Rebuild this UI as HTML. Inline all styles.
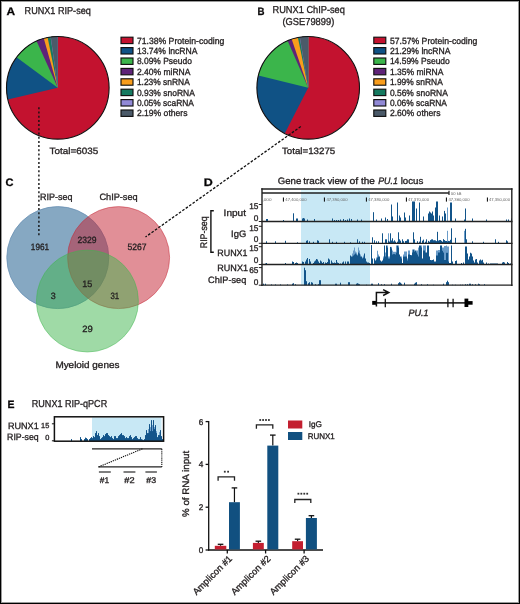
<!DOCTYPE html>
<html><head><meta charset="utf-8"><style>
html,body{margin:0;padding:0;background:#fff;}
#fig{position:relative;width:520px;height:604px;overflow:hidden;background:#fff;}
svg{position:absolute;left:0;top:0;font-family:"Liberation Sans", sans-serif;will-change:transform;}
svg text{stroke:#231f20;stroke-width:0.32px;text-rendering:geometricPrecision;} svg text[fill='#666']{stroke:none} .b{position:absolute;background:#000;} .g{position:absolute;background:#9a9a9a;}
</style></head><body><div id="fig">
<svg width="520" height="604" viewBox="0 0 520 604" fill="#231f20">
<text x="6.6" y="14.8" font-size="10.8" textLength="8.6" lengthAdjust="spacingAndGlyphs" font-weight="bold" fill="#000">A</text>
<text x="24.6" y="13.5" font-size="10.1" textLength="66.2" lengthAdjust="spacingAndGlyphs">RUNX1 RIP-seq</text>
<circle cx="57.8" cy="87.8" r="51.3" fill="#c3122f"/>
<path d="M57.8,87.8 L7.826,99.390 A51.3,51.3 0 0 1 57.800,36.500 Z" fill="#105285"/>
<path d="M57.8,87.8 L16.510,57.357 A51.3,51.3 0 0 1 57.800,36.500 Z" fill="#3bb54b"/>
<path d="M57.8,87.8 L36.545,41.111 A51.3,51.3 0 0 1 57.800,36.500 Z" fill="#5f2378"/>
<path d="M57.8,87.8 L43.799,38.448 A51.3,51.3 0 0 1 57.800,36.500 Z" fill="#f99d1c"/>
<path d="M57.8,87.8 L47.651,37.514 A51.3,51.3 0 0 1 57.800,36.500 Z" fill="#157a60"/>
<path d="M57.8,87.8 L50.604,37.007 A51.3,51.3 0 0 1 57.800,36.500 Z" fill="#9189d6"/>
<path d="M57.8,87.8 L50.764,36.985 A51.3,51.3 0 0 1 57.800,36.500 Z" fill="#4b5a69"/>
<circle cx="57.8" cy="87.8" r="51.3" fill="none" stroke="#111" stroke-width="1.1"/>
<rect x="121.0" y="37.2" width="12" height="6.4" fill="#c3122f" stroke="#111" stroke-width="1.15"/>
<text x="136.9" y="43.6" font-size="9" textLength="87.5" lengthAdjust="spacingAndGlyphs">71.38% Protein-coding</text>
<rect x="121.0" y="47.6" width="12" height="6.4" fill="#105285" stroke="#111" stroke-width="1.15"/>
<text x="136.9" y="54.0" font-size="9" textLength="60.6" lengthAdjust="spacingAndGlyphs">13.74% lncRNA</text>
<rect x="121.0" y="58.0" width="12" height="6.4" fill="#3bb54b" stroke="#111" stroke-width="1.15"/>
<text x="136.9" y="64.4" font-size="9" textLength="55.0" lengthAdjust="spacingAndGlyphs">8.09% Pseudo</text>
<rect x="121.0" y="68.4" width="12" height="6.4" fill="#5f2378" stroke="#111" stroke-width="1.15"/>
<text x="136.9" y="74.8" font-size="9" textLength="53.5" lengthAdjust="spacingAndGlyphs">2.40% miRNA</text>
<rect x="121.0" y="78.80000000000001" width="12" height="6.4" fill="#f99d1c" stroke="#111" stroke-width="1.15"/>
<text x="136.9" y="85.2" font-size="9" textLength="52.9" lengthAdjust="spacingAndGlyphs">1.23% snRNA</text>
<rect x="121.0" y="89.2" width="12" height="6.4" fill="#157a60" stroke="#111" stroke-width="1.15"/>
<text x="136.9" y="95.6" font-size="9" textLength="57.9" lengthAdjust="spacingAndGlyphs">0.93% snoRNA</text>
<rect x="121.0" y="99.60000000000001" width="12" height="6.4" fill="#9189d6" stroke="#111" stroke-width="1.15"/>
<text x="136.9" y="106.0" font-size="9" textLength="57.0" lengthAdjust="spacingAndGlyphs">0.05% scaRNA</text>
<rect x="121.0" y="110.0" width="12" height="6.4" fill="#4b5a69" stroke="#111" stroke-width="1.15"/>
<text x="136.9" y="116.4" font-size="9" textLength="50.6" lengthAdjust="spacingAndGlyphs">2.19% others</text>
<text x="49.6" y="153.6" font-size="9.2" textLength="48.6" lengthAdjust="spacingAndGlyphs">Total=6035</text>
<text x="257.6" y="14.9" font-size="10.6" textLength="7" lengthAdjust="spacingAndGlyphs" font-weight="bold" fill="#000">B</text>
<text x="272.5" y="13.4" font-size="10.1" textLength="72.4" lengthAdjust="spacingAndGlyphs">RUNX1 ChIP-seq</text>
<text x="282.4" y="24.8" font-size="10.1" textLength="51.9" lengthAdjust="spacingAndGlyphs">(GSE79899)</text>
<circle cx="308.2" cy="87.8" r="51.3" fill="#c3122f"/>
<path d="M308.2,87.8 L284.726,133.414 A51.3,51.3 0 0 1 308.200,36.500 Z" fill="#105285"/>
<path d="M308.2,87.8 L258.395,75.504 A51.3,51.3 0 0 1 308.200,36.500 Z" fill="#3bb54b"/>
<path d="M308.2,87.8 L287.651,40.795 A51.3,51.3 0 0 1 308.200,36.500 Z" fill="#5f2378"/>
<path d="M308.2,87.8 L291.707,39.224 A51.3,51.3 0 0 1 308.200,36.500 Z" fill="#f99d1c"/>
<path d="M308.2,87.8 L297.893,37.546 A51.3,51.3 0 0 1 308.200,36.500 Z" fill="#157a60"/>
<path d="M308.2,87.8 L299.667,37.215 A51.3,51.3 0 0 1 308.200,36.500 Z" fill="#9189d6"/>
<path d="M308.2,87.8 L299.858,37.183 A51.3,51.3 0 0 1 308.200,36.500 Z" fill="#4b5a69"/>
<circle cx="308.2" cy="87.8" r="51.3" fill="none" stroke="#111" stroke-width="1.1"/>
<rect x="373.8" y="37.2" width="12" height="6.4" fill="#c3122f" stroke="#111" stroke-width="1.15"/>
<text x="389.9" y="43.6" font-size="9" textLength="87.5" lengthAdjust="spacingAndGlyphs">57.57% Protein-coding</text>
<rect x="373.8" y="47.6" width="12" height="6.4" fill="#105285" stroke="#111" stroke-width="1.15"/>
<text x="389.9" y="54.0" font-size="9" textLength="60.6" lengthAdjust="spacingAndGlyphs">21.29% lncRNA</text>
<rect x="373.8" y="58.0" width="12" height="6.4" fill="#3bb54b" stroke="#111" stroke-width="1.15"/>
<text x="389.9" y="64.4" font-size="9" textLength="59.9" lengthAdjust="spacingAndGlyphs">14.59% Pseudo</text>
<rect x="373.8" y="68.4" width="12" height="6.4" fill="#5f2378" stroke="#111" stroke-width="1.15"/>
<text x="389.9" y="74.8" font-size="9" textLength="53.5" lengthAdjust="spacingAndGlyphs">1.35% miRNA</text>
<rect x="373.8" y="78.80000000000001" width="12" height="6.4" fill="#f99d1c" stroke="#111" stroke-width="1.15"/>
<text x="389.9" y="85.2" font-size="9" textLength="52.9" lengthAdjust="spacingAndGlyphs">1.99% snRNA</text>
<rect x="373.8" y="89.2" width="12" height="6.4" fill="#157a60" stroke="#111" stroke-width="1.15"/>
<text x="389.9" y="95.6" font-size="9" textLength="57.9" lengthAdjust="spacingAndGlyphs">0.56% snoRNA</text>
<rect x="373.8" y="99.60000000000001" width="12" height="6.4" fill="#9189d6" stroke="#111" stroke-width="1.15"/>
<text x="389.9" y="106.0" font-size="9" textLength="57.0" lengthAdjust="spacingAndGlyphs">0.06% scaRNA</text>
<rect x="373.8" y="110.0" width="12" height="6.4" fill="#4b5a69" stroke="#111" stroke-width="1.15"/>
<text x="389.9" y="116.4" font-size="9" textLength="50.6" lengthAdjust="spacingAndGlyphs">2.60% others</text>
<text x="281.9" y="154.3" font-size="9.2" textLength="53.4" lengthAdjust="spacingAndGlyphs">Total=13275</text>
<text x="5.4" y="186.2" font-size="10.8" textLength="8" lengthAdjust="spacingAndGlyphs" font-weight="bold" fill="#000">C</text>
<g>
<circle cx="57.8" cy="257.6" r="51" fill="rgb(134,168,194)" stroke="rgb(105,145,180)" stroke-width="0.8"/>
<circle cx="118.6" cy="257.6" r="51" fill="rgb(196,35,51)" fill-opacity="0.51" stroke="rgb(196,35,51)" stroke-opacity="0.6" stroke-width="0.8"/>
<circle cx="87.4" cy="301" r="51" fill="rgb(63,181,77)" fill-opacity="0.5" stroke="rgb(63,181,77)" stroke-opacity="0.6" stroke-width="0.8"/>
</g>
<text x="40" y="200.4" font-size="9.2" textLength="32.4" lengthAdjust="spacingAndGlyphs">RIP-seq</text>
<text x="99.4" y="200.2" font-size="9.2" textLength="38.3" lengthAdjust="spacingAndGlyphs">ChIP-seq</text>
<text x="40.0" y="250" font-size="9.2" textLength="18.3" lengthAdjust="spacingAndGlyphs" text-anchor="middle">1961</text>
<text x="87.12" y="243" font-size="9.2" textLength="19.05" lengthAdjust="spacingAndGlyphs" text-anchor="middle">2329</text>
<text x="137.12" y="250" font-size="9.2" textLength="19.05" lengthAdjust="spacingAndGlyphs" text-anchor="middle">5267</text>
<text x="87.2" y="286.9" font-size="9.2" textLength="10.0" lengthAdjust="spacingAndGlyphs" text-anchor="middle">15</text>
<text x="53.3" y="298.5" font-size="9.2" textLength="5.0" lengthAdjust="spacingAndGlyphs" text-anchor="middle">3</text>
<text x="114.8" y="298.5" font-size="9.2" textLength="8.8" lengthAdjust="spacingAndGlyphs" text-anchor="middle">31</text>
<text x="87.45" y="331.9" font-size="9.2" textLength="10.5" lengthAdjust="spacingAndGlyphs" text-anchor="middle">29</text>
<text x="55.4" y="368" font-size="9.4" textLength="64" lengthAdjust="spacingAndGlyphs">Myeloid genes</text>
<line x1="38.9" y1="107.3" x2="38.9" y2="236" stroke="#111" stroke-width="1.4" stroke-dasharray="2 2.2"/>
<line x1="300.8" y1="126.5" x2="145.5" y2="237" stroke="#111" stroke-width="1.3" stroke-dasharray="2.6 1.6"/>
<text x="203.7" y="186" font-size="11" textLength="9" lengthAdjust="spacingAndGlyphs" font-weight="bold" fill="#000">D</text>
<text x="277.7" y="184.3" font-size="9.3" textLength="23.6" lengthAdjust="spacingAndGlyphs">Gene</text>
<text x="303.3" y="184.3" font-size="9.3" textLength="21.5" lengthAdjust="spacingAndGlyphs">track</text>
<text x="327.4" y="184.3" font-size="9.3" textLength="19.4" lengthAdjust="spacingAndGlyphs">view</text>
<text x="349.5" y="184.3" font-size="9.3" textLength="8.8" lengthAdjust="spacingAndGlyphs">of</text>
<text x="361.0" y="184.3" font-size="9.3" textLength="13.9" lengthAdjust="spacingAndGlyphs">the</text>
<text x="378.2" y="184.3" font-size="9.3" textLength="19.7" lengthAdjust="spacingAndGlyphs" font-style="italic">PU.1</text>
<text x="400.7" y="184.3" font-size="9.3" textLength="22.6" lengthAdjust="spacingAndGlyphs">locus</text>
<rect x="301" y="190" width="69" height="95.5" fill="#c8e8f5"/>
<rect x="301" y="189.8" width="69" height="2.4" fill="#dcf6fc"/>
<rect x="447" y="207.50" width="1" height="14" fill="#6a9cc9"/>
<rect x="266" y="219.00" width="1" height="2.5" fill="#12548a"/>
<rect x="267" y="219.00" width="1" height="2.5" fill="#12548a"/>
<rect x="283" y="220.00" width="1" height="1.5" fill="#12548a"/>
<rect x="293" y="213.30" width="1" height="8.2" fill="#12548a"/>
<rect x="296" y="218.50" width="1" height="3" fill="#12548a"/>
<rect x="297" y="218.50" width="1" height="3" fill="#12548a"/>
<rect x="302" y="218.50" width="1" height="3" fill="#12548a"/>
<rect x="303" y="218.00" width="1" height="3.5" fill="#12548a"/>
<rect x="304" y="218.50" width="1" height="3" fill="#12548a"/>
<rect x="307" y="219.50" width="1" height="2" fill="#12548a"/>
<rect x="314" y="219.00" width="1" height="2.5" fill="#12548a"/>
<rect x="332" y="218.50" width="1" height="3" fill="#12548a"/>
<rect x="334" y="220.00" width="1" height="1.5" fill="#12548a"/>
<rect x="336" y="220.00" width="1" height="1.5" fill="#12548a"/>
<rect x="338" y="220.00" width="1" height="1.5" fill="#12548a"/>
<rect x="340" y="219.50" width="1" height="2" fill="#12548a"/>
<rect x="343" y="219.00" width="1" height="2.5" fill="#12548a"/>
<rect x="345" y="220.00" width="1" height="1.5" fill="#12548a"/>
<rect x="347" y="219.50" width="1" height="2" fill="#12548a"/>
<rect x="349" y="218.50" width="1" height="3" fill="#12548a"/>
<rect x="351" y="219.00" width="1" height="2.5" fill="#12548a"/>
<rect x="357" y="219.50" width="1" height="2" fill="#12548a"/>
<rect x="361" y="219.50" width="1" height="2" fill="#12548a"/>
<rect x="373" y="212.20" width="1" height="9.3" fill="#12548a"/>
<rect x="376" y="219.50" width="1" height="2" fill="#12548a"/>
<rect x="381" y="218.50" width="1" height="3" fill="#12548a"/>
<rect x="385" y="217.50" width="1" height="4" fill="#12548a"/>
<rect x="387" y="219.00" width="1" height="2.5" fill="#12548a"/>
<rect x="391" y="204.50" width="1" height="17" fill="#12548a"/>
<rect x="392" y="216.50" width="1" height="5" fill="#12548a"/>
<rect x="397" y="202.50" width="1" height="19" fill="#12548a"/>
<rect x="399" y="215.50" width="1" height="6" fill="#12548a"/>
<rect x="400" y="217.50" width="1" height="4" fill="#12548a"/>
<rect x="404" y="212.50" width="1" height="9" fill="#12548a"/>
<rect x="405" y="217.50" width="1" height="4" fill="#12548a"/>
<rect x="409" y="215.50" width="1" height="6" fill="#12548a"/>
<rect x="412" y="201.50" width="1" height="20" fill="#12548a"/>
<rect x="413" y="201.50" width="1" height="20" fill="#12548a"/>
<rect x="414" y="201.50" width="1" height="20" fill="#12548a"/>
<rect x="416" y="208.50" width="1" height="13" fill="#12548a"/>
<rect x="419" y="202.50" width="1" height="19" fill="#12548a"/>
<rect x="423" y="216.50" width="1" height="5" fill="#12548a"/>
<rect x="428" y="213.50" width="1" height="8" fill="#12548a"/>
<rect x="429" y="211.50" width="1" height="10" fill="#12548a"/>
<rect x="430" y="212.50" width="1" height="9" fill="#12548a"/>
<rect x="431" y="213.50" width="1" height="8" fill="#12548a"/>
<rect x="432" y="211.50" width="1" height="10" fill="#12548a"/>
<rect x="433" y="215.50" width="1" height="6" fill="#12548a"/>
<rect x="435" y="207.50" width="1" height="14" fill="#12548a"/>
<rect x="436" y="201.50" width="1" height="20" fill="#12548a"/>
<rect x="437" y="201.50" width="1" height="20" fill="#12548a"/>
<rect x="439" y="215.50" width="1" height="6" fill="#12548a"/>
<rect x="442" y="216.50" width="1" height="5" fill="#12548a"/>
<rect x="444" y="210.90" width="1" height="10.6" fill="#12548a"/>
<rect x="445" y="213.50" width="1" height="8" fill="#12548a"/>
<rect x="450" y="202.50" width="1" height="19" fill="#12548a"/>
<rect x="451" y="202.50" width="1" height="19" fill="#12548a"/>
<rect x="455" y="218.50" width="1" height="3" fill="#12548a"/>
<rect x="464" y="219.50" width="1" height="2" fill="#12548a"/>
<rect x="465" y="208.50" width="1" height="13" fill="#12548a"/>
<rect x="472" y="218.50" width="1" height="3" fill="#12548a"/>
<rect x="486" y="219.50" width="1" height="2" fill="#12548a"/>
<rect x="506" y="219.50" width="1" height="2" fill="#12548a"/>
<rect x="508" y="219.50" width="1" height="2" fill="#12548a"/>
<rect x="511" y="218.50" width="1" height="3" fill="#12548a"/>
<rect x="388" y="233.30" width="1" height="10" fill="#6a9cc9"/>
<rect x="447" y="230.80" width="1" height="12.5" fill="#6a9cc9"/>
<rect x="464" y="230.80" width="1" height="12.5" fill="#6a9cc9"/>
<rect x="266" y="241.30" width="1" height="2" fill="#12548a"/>
<rect x="275" y="241.30" width="1" height="2" fill="#12548a"/>
<rect x="285" y="240.80" width="1" height="2.5" fill="#12548a"/>
<rect x="297" y="242.30" width="1" height="1" fill="#12548a"/>
<rect x="306" y="240.80" width="1" height="2.5" fill="#12548a"/>
<rect x="307" y="240.30" width="1" height="3" fill="#12548a"/>
<rect x="309" y="241.30" width="1" height="2" fill="#12548a"/>
<rect x="313" y="241.80" width="1" height="1.5" fill="#12548a"/>
<rect x="317" y="240.30" width="1" height="3" fill="#12548a"/>
<rect x="318" y="240.80" width="1" height="2.5" fill="#12548a"/>
<rect x="329" y="239.30" width="1" height="4" fill="#12548a"/>
<rect x="332" y="241.80" width="1" height="1.5" fill="#12548a"/>
<rect x="336" y="241.80" width="1" height="1.5" fill="#12548a"/>
<rect x="344" y="241.80" width="1" height="1.5" fill="#12548a"/>
<rect x="350" y="242.30" width="1" height="1" fill="#12548a"/>
<rect x="357" y="239.30" width="1" height="4" fill="#12548a"/>
<rect x="359" y="241.30" width="1" height="2" fill="#12548a"/>
<rect x="362" y="241.80" width="1" height="1.5" fill="#12548a"/>
<rect x="364" y="241.80" width="1" height="1.5" fill="#12548a"/>
<rect x="372" y="237.30" width="1" height="6" fill="#12548a"/>
<rect x="374" y="240.30" width="1" height="3" fill="#12548a"/>
<rect x="376" y="241.30" width="1" height="2" fill="#12548a"/>
<rect x="378" y="241.30" width="1" height="2" fill="#12548a"/>
<rect x="382" y="233.30" width="1" height="10" fill="#12548a"/>
<rect x="385" y="239.30" width="1" height="4" fill="#12548a"/>
<rect x="386" y="239.30" width="1" height="4" fill="#12548a"/>
<rect x="388" y="240.80" width="1" height="2.5" fill="#12548a"/>
<rect x="389" y="241.60" width="1" height="1.7" fill="#12548a"/>
<rect x="390" y="233.30" width="1" height="10" fill="#12548a"/>
<rect x="391" y="240.50" width="1" height="2.8" fill="#12548a"/>
<rect x="392" y="238.30" width="1" height="5" fill="#12548a"/>
<rect x="393" y="241.40" width="1" height="1.9" fill="#12548a"/>
<rect x="394" y="240.30" width="1" height="3.0" fill="#12548a"/>
<rect x="395" y="241.60" width="1" height="1.7" fill="#12548a"/>
<rect x="397" y="241.70" width="1" height="1.6" fill="#12548a"/>
<rect x="398" y="232.30" width="1" height="11" fill="#12548a"/>
<rect x="399" y="239.30" width="1" height="4.0" fill="#12548a"/>
<rect x="400" y="240.70" width="1" height="2.6" fill="#12548a"/>
<rect x="402" y="239.30" width="1" height="4.0" fill="#12548a"/>
<rect x="403" y="241.20" width="1" height="2.1" fill="#12548a"/>
<rect x="405" y="241.00" width="1" height="2.3" fill="#12548a"/>
<rect x="406" y="240.80" width="1" height="2.5" fill="#12548a"/>
<rect x="407" y="239.30" width="1" height="4.0" fill="#12548a"/>
<rect x="408" y="239.40" width="1" height="3.9" fill="#12548a"/>
<rect x="413" y="232.30" width="1" height="11" fill="#12548a"/>
<rect x="414" y="239.40" width="1" height="3.9" fill="#12548a"/>
<rect x="417" y="241.20" width="1" height="2.1" fill="#12548a"/>
<rect x="419" y="241.60" width="1" height="1.7" fill="#12548a"/>
<rect x="420" y="236.80" width="1" height="6.5" fill="#12548a"/>
<rect x="422" y="240.70" width="1" height="2.6" fill="#12548a"/>
<rect x="423" y="239.60" width="1" height="3.7" fill="#12548a"/>
<rect x="425" y="241.70" width="1" height="1.6" fill="#12548a"/>
<rect x="426" y="239.30" width="1" height="4.0" fill="#12548a"/>
<rect x="428" y="240.90" width="1" height="2.4" fill="#12548a"/>
<rect x="429" y="241.70" width="1" height="1.6" fill="#12548a"/>
<rect x="430" y="240.10" width="1" height="3.2" fill="#12548a"/>
<rect x="431" y="239.40" width="1" height="3.9" fill="#12548a"/>
<rect x="432" y="239.30" width="1" height="4.0" fill="#12548a"/>
<rect x="433" y="240.30" width="1" height="3.0" fill="#12548a"/>
<rect x="434" y="240.20" width="1" height="3.1" fill="#12548a"/>
<rect x="435" y="240.40" width="1" height="2.9" fill="#12548a"/>
<rect x="436" y="241.10" width="1" height="2.2" fill="#12548a"/>
<rect x="437" y="231.80" width="1" height="11.5" fill="#12548a"/>
<rect x="438" y="240.60" width="1" height="2.7" fill="#12548a"/>
<rect x="439" y="240.10" width="1" height="3.2" fill="#12548a"/>
<rect x="440" y="240.00" width="1" height="3.3" fill="#12548a"/>
<rect x="441" y="240.80" width="1" height="2.5" fill="#12548a"/>
<rect x="442" y="241.70" width="1" height="1.6" fill="#12548a"/>
<rect x="443" y="239.10" width="1" height="4.2" fill="#12548a"/>
<rect x="444" y="240.10" width="1" height="3.2" fill="#12548a"/>
<rect x="445" y="240.90" width="1" height="2.4" fill="#12548a"/>
<rect x="446" y="241.00" width="1" height="2.3" fill="#12548a"/>
<rect x="447" y="241.70" width="1" height="1.6" fill="#12548a"/>
<rect x="448" y="240.90" width="1" height="2.4" fill="#12548a"/>
<rect x="449" y="241.10" width="1" height="2.2" fill="#12548a"/>
<rect x="450" y="239.80" width="1" height="3.5" fill="#12548a"/>
<rect x="451" y="228.30" width="1" height="15" fill="#12548a"/>
<rect x="455" y="237.80" width="1" height="5.5" fill="#12548a"/>
<rect x="465" y="228.80" width="1" height="14.5" fill="#12548a"/>
<rect x="466" y="239.30" width="1" height="4" fill="#12548a"/>
<rect x="472" y="241.30" width="1" height="2" fill="#12548a"/>
<rect x="483" y="241.80" width="1" height="1.5" fill="#12548a"/>
<rect x="495" y="239.30" width="1" height="4" fill="#12548a"/>
<rect x="498" y="241.80" width="1" height="1.5" fill="#12548a"/>
<rect x="506" y="240.30" width="1" height="3" fill="#12548a"/>
<rect x="507" y="241.30" width="1" height="2" fill="#12548a"/>
<rect x="352" y="253.50" width="1" height="11" fill="#6a9cc9"/>
<rect x="353" y="250.50" width="1" height="14" fill="#6a9cc9"/>
<rect x="354" y="247.50" width="1" height="17" fill="#6a9cc9"/>
<rect x="355" y="251.50" width="1" height="13" fill="#6a9cc9"/>
<rect x="356" y="252.50" width="1" height="12" fill="#6a9cc9"/>
<rect x="357" y="254.50" width="1" height="10" fill="#6a9cc9"/>
<rect x="358" y="247.50" width="1" height="17" fill="#6a9cc9"/>
<rect x="359" y="250.50" width="1" height="14" fill="#6a9cc9"/>
<rect x="360" y="254.50" width="1" height="10" fill="#6a9cc9"/>
<rect x="362" y="257.50" width="1" height="7" fill="#6a9cc9"/>
<rect x="363" y="255.50" width="1" height="9" fill="#6a9cc9"/>
<rect x="376" y="257.50" width="1" height="7" fill="#6a9cc9"/>
<rect x="377" y="250.75" width="1" height="13.75" fill="#6a9cc9"/>
<rect x="378" y="254.50" width="1" height="10" fill="#6a9cc9"/>
<rect x="383" y="256.50" width="1" height="8" fill="#6a9cc9"/>
<rect x="385" y="252.50" width="1" height="12" fill="#6a9cc9"/>
<rect x="387" y="245.50" width="1" height="19" fill="#6a9cc9"/>
<rect x="388" y="256.50" width="1" height="8" fill="#6a9cc9"/>
<rect x="389" y="256.50" width="1" height="8" fill="#6a9cc9"/>
<rect x="391" y="246.90" width="1" height="17.6" fill="#6a9cc9"/>
<rect x="392" y="250.50" width="1" height="14" fill="#6a9cc9"/>
<rect x="393" y="251.80" width="1" height="12.7" fill="#6a9cc9"/>
<rect x="394" y="251.80" width="1" height="12.7" fill="#6a9cc9"/>
<rect x="395" y="251.80" width="1" height="12.7" fill="#6a9cc9"/>
<rect x="396" y="245.50" width="1" height="19" fill="#6a9cc9"/>
<rect x="398" y="245.50" width="1" height="19" fill="#6a9cc9"/>
<rect x="401" y="256.50" width="1" height="8" fill="#6a9cc9"/>
<rect x="403" y="254.50" width="1" height="10" fill="#6a9cc9"/>
<rect x="404" y="251.50" width="1" height="13" fill="#6a9cc9"/>
<rect x="405" y="251.50" width="1" height="13" fill="#6a9cc9"/>
<rect x="406" y="251.50" width="1" height="13" fill="#6a9cc9"/>
<rect x="407" y="258.50" width="1" height="6" fill="#6a9cc9"/>
<rect x="408" y="250.50" width="1" height="14" fill="#6a9cc9"/>
<rect x="409" y="250.50" width="1" height="14" fill="#6a9cc9"/>
<rect x="411" y="255.00" width="1" height="9.5" fill="#6a9cc9"/>
<rect x="412" y="249.50" width="1" height="15" fill="#6a9cc9"/>
<rect x="414" y="249.50" width="1" height="15" fill="#6a9cc9"/>
<rect x="416" y="250.50" width="1" height="14" fill="#6a9cc9"/>
<rect x="417" y="250.50" width="1" height="14" fill="#6a9cc9"/>
<rect x="418" y="247.50" width="1" height="17" fill="#6a9cc9"/>
<rect x="421" y="245.50" width="1" height="19" fill="#6a9cc9"/>
<rect x="423" y="245.50" width="1" height="19" fill="#6a9cc9"/>
<rect x="424" y="245.50" width="1" height="19" fill="#6a9cc9"/>
<rect x="425" y="245.50" width="1" height="19" fill="#6a9cc9"/>
<rect x="431" y="260.00" width="1" height="4.5" fill="#6a9cc9"/>
<rect x="436" y="250.50" width="1" height="14" fill="#6a9cc9"/>
<rect x="437" y="250.50" width="1" height="14" fill="#6a9cc9"/>
<rect x="438" y="250.00" width="1" height="14.5" fill="#6a9cc9"/>
<rect x="439" y="250.00" width="1" height="14.5" fill="#6a9cc9"/>
<rect x="442" y="247.50" width="1" height="17" fill="#6a9cc9"/>
<rect x="443" y="247.50" width="1" height="17" fill="#6a9cc9"/>
<rect x="444" y="246.00" width="1" height="18.5" fill="#6a9cc9"/>
<rect x="445" y="246.00" width="1" height="18.5" fill="#6a9cc9"/>
<rect x="446" y="245.50" width="1" height="19" fill="#6a9cc9"/>
<rect x="447" y="246.50" width="1" height="18" fill="#6a9cc9"/>
<rect x="448" y="246.50" width="1" height="18" fill="#6a9cc9"/>
<rect x="350" y="255.50" width="1" height="9" fill="#12548a"/>
<rect x="351" y="256.50" width="1" height="8" fill="#12548a"/>
<rect x="352" y="256.50" width="1" height="8" fill="#12548a"/>
<rect x="353" y="255.50" width="1" height="9" fill="#12548a"/>
<rect x="354" y="254.50" width="1" height="10" fill="#12548a"/>
<rect x="355" y="253.50" width="1" height="11" fill="#12548a"/>
<rect x="356" y="254.50" width="1" height="10" fill="#12548a"/>
<rect x="357" y="255.50" width="1" height="9" fill="#12548a"/>
<rect x="358" y="252.50" width="1" height="12" fill="#12548a"/>
<rect x="359" y="253.50" width="1" height="11" fill="#12548a"/>
<rect x="360" y="256.50" width="1" height="8" fill="#12548a"/>
<rect x="361" y="256.50" width="1" height="8" fill="#12548a"/>
<rect x="362" y="258.50" width="1" height="6" fill="#12548a"/>
<rect x="363" y="257.50" width="1" height="7" fill="#12548a"/>
<rect x="364" y="253.50" width="1" height="11" fill="#12548a"/>
<rect x="365" y="258.50" width="1" height="6" fill="#12548a"/>
<rect x="366" y="261.50" width="1" height="3" fill="#12548a"/>
<rect x="367" y="262.50" width="1" height="2" fill="#12548a"/>
<rect x="368" y="262.50" width="1" height="2" fill="#12548a"/>
<rect x="369" y="263.00" width="1" height="1.5" fill="#12548a"/>
<rect x="371" y="245.10" width="1" height="19.4" fill="#12548a"/>
<rect x="372" y="258.50" width="1" height="6" fill="#12548a"/>
<rect x="374" y="258.50" width="1" height="6" fill="#12548a"/>
<rect x="375" y="260.50" width="1" height="4" fill="#12548a"/>
<rect x="376" y="259.50" width="1" height="5" fill="#12548a"/>
<rect x="377" y="257.50" width="1" height="7" fill="#12548a"/>
<rect x="378" y="256.50" width="1" height="8" fill="#12548a"/>
<rect x="379" y="256.50" width="1" height="8" fill="#12548a"/>
<rect x="380" y="260.50" width="1" height="4" fill="#12548a"/>
<rect x="381" y="261.50" width="1" height="3" fill="#12548a"/>
<rect x="382" y="260.50" width="1" height="4" fill="#12548a"/>
<rect x="383" y="258.50" width="1" height="6" fill="#12548a"/>
<rect x="384" y="245.50" width="1" height="19" fill="#12548a"/>
<rect x="385" y="256.50" width="1" height="8" fill="#12548a"/>
<rect x="386" y="245.50" width="1" height="19" fill="#12548a"/>
<rect x="387" y="247.50" width="1" height="17" fill="#12548a"/>
<rect x="388" y="258.50" width="1" height="6" fill="#12548a"/>
<rect x="389" y="258.50" width="1" height="6" fill="#12548a"/>
<rect x="390" y="246.90" width="1" height="17.6" fill="#12548a"/>
<rect x="391" y="248.50" width="1" height="16" fill="#12548a"/>
<rect x="392" y="254.50" width="1" height="10" fill="#12548a"/>
<rect x="393" y="254.10" width="1" height="10.4" fill="#12548a"/>
<rect x="394" y="254.10" width="1" height="10.4" fill="#12548a"/>
<rect x="395" y="254.50" width="1" height="10" fill="#12548a"/>
<rect x="396" y="252.50" width="1" height="12" fill="#12548a"/>
<rect x="397" y="245.50" width="1" height="19" fill="#12548a"/>
<rect x="398" y="247.50" width="1" height="17" fill="#12548a"/>
<rect x="399" y="254.50" width="1" height="10" fill="#12548a"/>
<rect x="400" y="256.50" width="1" height="8" fill="#12548a"/>
<rect x="401" y="258.50" width="1" height="6" fill="#12548a"/>
<rect x="402" y="263.00" width="1" height="1.5" fill="#12548a"/>
<rect x="403" y="256.60" width="1" height="7.9" fill="#12548a"/>
<rect x="404" y="256.60" width="1" height="7.9" fill="#12548a"/>
<rect x="405" y="256.50" width="1" height="8" fill="#12548a"/>
<rect x="406" y="256.50" width="1" height="8" fill="#12548a"/>
<rect x="407" y="260.50" width="1" height="4" fill="#12548a"/>
<rect x="408" y="254.50" width="1" height="10" fill="#12548a"/>
<rect x="409" y="254.50" width="1" height="10" fill="#12548a"/>
<rect x="410" y="255.00" width="1" height="9.5" fill="#12548a"/>
<rect x="411" y="255.50" width="1" height="9" fill="#12548a"/>
<rect x="412" y="252.50" width="1" height="12" fill="#12548a"/>
<rect x="413" y="249.50" width="1" height="15" fill="#12548a"/>
<rect x="414" y="251.50" width="1" height="13" fill="#12548a"/>
<rect x="415" y="250.50" width="1" height="14" fill="#12548a"/>
<rect x="416" y="252.50" width="1" height="12" fill="#12548a"/>
<rect x="417" y="254.50" width="1" height="10" fill="#12548a"/>
<rect x="418" y="256.50" width="1" height="8" fill="#12548a"/>
<rect x="419" y="245.50" width="1" height="19" fill="#12548a"/>
<rect x="420" y="245.50" width="1" height="19" fill="#12548a"/>
<rect x="421" y="247.50" width="1" height="17" fill="#12548a"/>
<rect x="422" y="258.50" width="1" height="6" fill="#12548a"/>
<rect x="423" y="250.50" width="1" height="14" fill="#12548a"/>
<rect x="424" y="250.50" width="1" height="14" fill="#12548a"/>
<rect x="425" y="252.50" width="1" height="12" fill="#12548a"/>
<rect x="426" y="252.50" width="1" height="12" fill="#12548a"/>
<rect x="427" y="245.50" width="1" height="19" fill="#12548a"/>
<rect x="428" y="245.50" width="1" height="19" fill="#12548a"/>
<rect x="429" y="256.50" width="1" height="8" fill="#12548a"/>
<rect x="430" y="260.00" width="1" height="4.5" fill="#12548a"/>
<rect x="431" y="260.50" width="1" height="4" fill="#12548a"/>
<rect x="432" y="260.00" width="1" height="4.5" fill="#12548a"/>
<rect x="433" y="259.50" width="1" height="5" fill="#12548a"/>
<rect x="434" y="261.50" width="1" height="3" fill="#12548a"/>
<rect x="435" y="261.50" width="1" height="3" fill="#12548a"/>
<rect x="436" y="255.50" width="1" height="9" fill="#12548a"/>
<rect x="437" y="255.50" width="1" height="9" fill="#12548a"/>
<rect x="438" y="252.50" width="1" height="12" fill="#12548a"/>
<rect x="439" y="252.50" width="1" height="12" fill="#12548a"/>
<rect x="440" y="245.50" width="1" height="19" fill="#12548a"/>
<rect x="441" y="245.50" width="1" height="19" fill="#12548a"/>
<rect x="442" y="250.80" width="1" height="13.7" fill="#12548a"/>
<rect x="443" y="252.50" width="1" height="12" fill="#12548a"/>
<rect x="444" y="260.00" width="1" height="4.5" fill="#12548a"/>
<rect x="445" y="260.00" width="1" height="4.5" fill="#12548a"/>
<rect x="446" y="252.80" width="1" height="11.7" fill="#12548a"/>
<rect x="447" y="252.80" width="1" height="11.7" fill="#12548a"/>
<rect x="448" y="261.50" width="1" height="3" fill="#12548a"/>
<rect x="449" y="263.00" width="1" height="1.5" fill="#12548a"/>
<rect x="450" y="263.00" width="1" height="1.5" fill="#12548a"/>
<rect x="451" y="245.50" width="1" height="19" fill="#12548a"/>
<rect x="265" y="263.50" width="1" height="1" fill="#12548a"/>
<rect x="266" y="263.00" width="1" height="1.5" fill="#12548a"/>
<rect x="285" y="263.00" width="1" height="1.5" fill="#12548a"/>
<rect x="292" y="261.50" width="1" height="3" fill="#12548a"/>
<rect x="293" y="262.00" width="1" height="2.5" fill="#12548a"/>
<rect x="295" y="263.00" width="1" height="1.5" fill="#12548a"/>
<rect x="296" y="262.50" width="1" height="2" fill="#12548a"/>
<rect x="297" y="263.00" width="1" height="1.5" fill="#12548a"/>
<rect x="302" y="261.50" width="1" height="3" fill="#12548a"/>
<rect x="303" y="262.00" width="1" height="2.5" fill="#12548a"/>
<rect x="305" y="261.50" width="1" height="3" fill="#12548a"/>
<rect x="306" y="259.50" width="1" height="5" fill="#12548a"/>
<rect x="307" y="258.00" width="1" height="6.5" fill="#12548a"/>
<rect x="309" y="259.00" width="1" height="5.5" fill="#12548a"/>
<rect x="310" y="261.50" width="1" height="3" fill="#12548a"/>
<rect x="313" y="263.00" width="1" height="1.5" fill="#12548a"/>
<rect x="314" y="261.50" width="1" height="3" fill="#12548a"/>
<rect x="315" y="260.50" width="1" height="4" fill="#12548a"/>
<rect x="316" y="259.00" width="1" height="5.5" fill="#12548a"/>
<rect x="317" y="259.50" width="1" height="5" fill="#12548a"/>
<rect x="318" y="261.50" width="1" height="3" fill="#12548a"/>
<rect x="319" y="263.00" width="1" height="1.5" fill="#12548a"/>
<rect x="320" y="260.50" width="1" height="4" fill="#12548a"/>
<rect x="321" y="261.50" width="1" height="3" fill="#12548a"/>
<rect x="322" y="263.00" width="1" height="1.5" fill="#12548a"/>
<rect x="323" y="262.00" width="1" height="2.5" fill="#12548a"/>
<rect x="325" y="262.50" width="1" height="2" fill="#12548a"/>
<rect x="326" y="263.00" width="1" height="1.5" fill="#12548a"/>
<rect x="327" y="262.00" width="1" height="2.5" fill="#12548a"/>
<rect x="328" y="258.50" width="1" height="6" fill="#12548a"/>
<rect x="329" y="259.50" width="1" height="5" fill="#12548a"/>
<rect x="331" y="260.50" width="1" height="4" fill="#12548a"/>
<rect x="332" y="262.50" width="1" height="2" fill="#12548a"/>
<rect x="333" y="263.00" width="1" height="1.5" fill="#12548a"/>
<rect x="334" y="262.50" width="1" height="2" fill="#12548a"/>
<rect x="335" y="263.00" width="1" height="1.5" fill="#12548a"/>
<rect x="336" y="260.00" width="1" height="4.5" fill="#12548a"/>
<rect x="337" y="262.50" width="1" height="2" fill="#12548a"/>
<rect x="338" y="263.00" width="1" height="1.5" fill="#12548a"/>
<rect x="340" y="263.50" width="1" height="1" fill="#12548a"/>
<rect x="342" y="262.50" width="1" height="2" fill="#12548a"/>
<rect x="343" y="261.50" width="1" height="3" fill="#12548a"/>
<rect x="345" y="261.50" width="1" height="3" fill="#12548a"/>
<rect x="347" y="261.50" width="1" height="3" fill="#12548a"/>
<rect x="348" y="261.50" width="1" height="3" fill="#12548a"/>
<rect x="452" y="261.50" width="1" height="3" fill="#12548a"/>
<rect x="455" y="261.00" width="1" height="3.5" fill="#12548a"/>
<rect x="456" y="260.50" width="1" height="4" fill="#12548a"/>
<rect x="461" y="263.00" width="1" height="1.5" fill="#12548a"/>
<rect x="463" y="262.50" width="1" height="2" fill="#12548a"/>
<rect x="465" y="246.50" width="1" height="18" fill="#12548a"/>
<rect x="466" y="246.50" width="1" height="18" fill="#12548a"/>
<rect x="467" y="253.50" width="1" height="11" fill="#12548a"/>
<rect x="468" y="259.50" width="1" height="5" fill="#12548a"/>
<rect x="469" y="256.50" width="1" height="8" fill="#12548a"/>
<rect x="470" y="252.75" width="1" height="11.75" fill="#12548a"/>
<rect x="471" y="253.50" width="1" height="11" fill="#12548a"/>
<rect x="472" y="256.50" width="1" height="8" fill="#12548a"/>
<rect x="473" y="260.50" width="1" height="4" fill="#12548a"/>
<rect x="474" y="262.50" width="1" height="2" fill="#12548a"/>
<rect x="475" y="259.50" width="1" height="5" fill="#12548a"/>
<rect x="476" y="259.00" width="1" height="5.5" fill="#12548a"/>
<rect x="477" y="262.50" width="1" height="2" fill="#12548a"/>
<rect x="479" y="260.50" width="1" height="4" fill="#12548a"/>
<rect x="480" y="259.50" width="1" height="5" fill="#12548a"/>
<rect x="481" y="260.50" width="1" height="4" fill="#12548a"/>
<rect x="482" y="259.75" width="1" height="4.75" fill="#12548a"/>
<rect x="483" y="262.50" width="1" height="2" fill="#12548a"/>
<rect x="486" y="262.50" width="1" height="2" fill="#12548a"/>
<rect x="488" y="263.50" width="1" height="1" fill="#12548a"/>
<rect x="490" y="263.50" width="1" height="1" fill="#12548a"/>
<rect x="491" y="263.50" width="1" height="1" fill="#12548a"/>
<rect x="492" y="263.50" width="1" height="1" fill="#12548a"/>
<rect x="493" y="263.50" width="1" height="1" fill="#12548a"/>
<rect x="494" y="263.50" width="1" height="1" fill="#12548a"/>
<rect x="495" y="263.50" width="1" height="1" fill="#12548a"/>
<rect x="496" y="263.50" width="1" height="1" fill="#12548a"/>
<rect x="497" y="263.50" width="1" height="1" fill="#12548a"/>
<rect x="502" y="262.50" width="1" height="2" fill="#12548a"/>
<rect x="503" y="262.00" width="1" height="2.5" fill="#12548a"/>
<rect x="504" y="262.50" width="1" height="2" fill="#12548a"/>
<rect x="507" y="262.00" width="1" height="2.5" fill="#12548a"/>
<rect x="508" y="263.00" width="1" height="1.5" fill="#12548a"/>
<rect x="510" y="263.50" width="1" height="1" fill="#12548a"/>
<rect x="263" y="283.70" width="1" height="1.5" fill="#12548a"/>
<rect x="265" y="283.70" width="1" height="1.5" fill="#12548a"/>
<rect x="271" y="284.40" width="1" height="0.8" fill="#12548a"/>
<rect x="275" y="284.40" width="1" height="0.8" fill="#12548a"/>
<rect x="280" y="284.40" width="1" height="0.8" fill="#12548a"/>
<rect x="287" y="284.40" width="1" height="0.8" fill="#12548a"/>
<rect x="292" y="283.70" width="1" height="1.5" fill="#12548a"/>
<rect x="293" y="283.20" width="1" height="2" fill="#12548a"/>
<rect x="295" y="284.20" width="1" height="1" fill="#12548a"/>
<rect x="304" y="267.70" width="1" height="17.5" fill="#12548a"/>
<rect x="305" y="270.20" width="1" height="15" fill="#12548a"/>
<rect x="306" y="281.20" width="1" height="4" fill="#12548a"/>
<rect x="308" y="283.20" width="1" height="2" fill="#12548a"/>
<rect x="309" y="282.20" width="1" height="3" fill="#12548a"/>
<rect x="311" y="282.20" width="1" height="3" fill="#12548a"/>
<rect x="312" y="282.70" width="1" height="2.5" fill="#12548a"/>
<rect x="315" y="284.20" width="1" height="1" fill="#12548a"/>
<rect x="318" y="284.20" width="1" height="1" fill="#12548a"/>
<rect x="319" y="280.20" width="1" height="5" fill="#12548a"/>
<rect x="320" y="280.20" width="1" height="5" fill="#12548a"/>
<rect x="335" y="283.70" width="1" height="1.5" fill="#12548a"/>
<rect x="336" y="283.70" width="1" height="1.5" fill="#12548a"/>
<rect x="340" y="282.70" width="1" height="2.5" fill="#12548a"/>
<rect x="348" y="282.20" width="1" height="3" fill="#12548a"/>
<rect x="349" y="282.20" width="1" height="3" fill="#12548a"/>
<rect x="356" y="283.70" width="1" height="1.5" fill="#12548a"/>
<rect x="357" y="283.20" width="1" height="2" fill="#12548a"/>
<rect x="358" y="283.70" width="1" height="1.5" fill="#12548a"/>
<rect x="359" y="284.20" width="1" height="1" fill="#12548a"/>
<rect x="366" y="284.70" width="1" height="0.5" fill="#12548a"/>
<rect x="371" y="283.70" width="1" height="1.5" fill="#12548a"/>
<rect x="372" y="283.70" width="1" height="1.5" fill="#12548a"/>
<rect x="378" y="283.20" width="1" height="2" fill="#12548a"/>
<rect x="381" y="284.20" width="1" height="1" fill="#12548a"/>
<rect x="384" y="284.20" width="1" height="1" fill="#12548a"/>
<rect x="391" y="283.70" width="1" height="1.5" fill="#12548a"/>
<rect x="398" y="283.20" width="1" height="2" fill="#12548a"/>
<rect x="399" y="282.20" width="1" height="3" fill="#12548a"/>
<rect x="400" y="282.70" width="1" height="2.5" fill="#12548a"/>
<rect x="401" y="283.70" width="1" height="1.5" fill="#12548a"/>
<rect x="404" y="282.70" width="1" height="2.5" fill="#12548a"/>
<rect x="414" y="283.70" width="1" height="1.5" fill="#12548a"/>
<rect x="415" y="282.70" width="1" height="2.5" fill="#12548a"/>
<rect x="416" y="282.20" width="1" height="3" fill="#12548a"/>
<rect x="421" y="284.20" width="1" height="1" fill="#12548a"/>
<rect x="427" y="284.20" width="1" height="1" fill="#12548a"/>
<rect x="433" y="284.70" width="1" height="0.5" fill="#12548a"/>
<rect x="443" y="283.70" width="1" height="1.5" fill="#12548a"/>
<rect x="446" y="282.20" width="1" height="3" fill="#12548a"/>
<rect x="447" y="280.70" width="1" height="4.5" fill="#12548a"/>
<rect x="448" y="282.20" width="1" height="3" fill="#12548a"/>
<rect x="452" y="284.70" width="1" height="0.5" fill="#12548a"/>
<rect x="455" y="284.70" width="1" height="0.5" fill="#12548a"/>
<rect x="460" y="284.70" width="1" height="0.5" fill="#12548a"/>
<rect x="462" y="284.70" width="1" height="0.5" fill="#12548a"/>
<rect x="465" y="284.20" width="1" height="1" fill="#12548a"/>
<rect x="467" y="284.20" width="1" height="1" fill="#12548a"/>
<rect x="469" y="283.70" width="1" height="1.5" fill="#12548a"/>
<rect x="470" y="283.70" width="1" height="1.5" fill="#12548a"/>
<rect x="472" y="284.20" width="1" height="1" fill="#12548a"/>
<rect x="475" y="284.20" width="1" height="1" fill="#12548a"/>
<rect x="478" y="283.70" width="1" height="1.5" fill="#12548a"/>
<rect x="479" y="284.20" width="1" height="1" fill="#12548a"/>
<rect x="484" y="284.20" width="1" height="1" fill="#12548a"/>
<g stroke="#222" fill="none">
<line x1="262" y1="188.2" x2="262" y2="286" stroke-width="1.4"/>
<line x1="511.8" y1="188.2" x2="511.8" y2="286" stroke-width="1.4"/>
<line x1="261.3" y1="189" x2="512.5" y2="189" stroke-width="1.6"/>
<line x1="262" y1="192.9" x2="449" y2="192.9" stroke-width="1.5"/>
<line x1="449" y1="190.8" x2="449" y2="195" stroke-width="1.2"/>
<line x1="261.3" y1="221.5" x2="512.5" y2="221.5" stroke-width="1.3"/>
<line x1="261.3" y1="243.3" x2="512.5" y2="243.3" stroke-width="1.3"/>
<line x1="261.3" y1="264.5" x2="512.5" y2="264.5" stroke-width="1.3"/>
<line x1="261.3" y1="285.2" x2="512.5" y2="285.2" stroke-width="1.3"/>
<line x1="258.8" y1="204.5" x2="262" y2="204.5" stroke-width="1"/>
<line x1="258.8" y1="221.5" x2="262" y2="221.5" stroke-width="1"/>
<line x1="258.8" y1="226.3" x2="262" y2="226.3" stroke-width="1"/>
<line x1="258.8" y1="243.3" x2="262" y2="243.3" stroke-width="1"/>
<line x1="258.8" y1="246.7" x2="262" y2="246.7" stroke-width="1"/>
<line x1="258.8" y1="264.5" x2="262" y2="264.5" stroke-width="1"/>
<line x1="258.8" y1="267.6" x2="262" y2="267.6" stroke-width="1"/>
<line x1="258.8" y1="285.2" x2="262" y2="285.2" stroke-width="1"/>
</g>
<rect x="282.9" y="197.5" width="1" height="4.1" fill="#000"/>
<text x="285.29999999999995" y="200.9" font-size="4.3" textLength="21.2" lengthAdjust="spacingAndGlyphs" fill="#666">47,400,000</text>
<rect x="323.9" y="197.5" width="1" height="4.1" fill="#000"/>
<text x="326.4" y="200.9" font-size="4.3" textLength="21.2" lengthAdjust="spacingAndGlyphs" fill="#666">47,390,000</text>
<rect x="365.9" y="197.5" width="1" height="4.1" fill="#000"/>
<text x="368.15" y="200.9" font-size="4.3" textLength="21.2" lengthAdjust="spacingAndGlyphs" fill="#666">47,380,000</text>
<rect x="405.9" y="197.5" width="1" height="4.1" fill="#000"/>
<text x="407.9" y="200.9" font-size="4.3" textLength="21.2" lengthAdjust="spacingAndGlyphs" fill="#666">47,370,000</text>
<rect x="445.9" y="197.5" width="1" height="4.1" fill="#000"/>
<text x="448.4" y="200.9" font-size="4.3" textLength="21.2" lengthAdjust="spacingAndGlyphs" fill="#666">47,360,000</text>
<rect x="486.9" y="197.5" width="1" height="4.1" fill="#000"/>
<text x="488.9" y="200.9" font-size="4.3" textLength="21.2" lengthAdjust="spacingAndGlyphs" fill="#666">47,350,000</text>
<text x="262.5" y="200.9" font-size="4.3" textLength="9" lengthAdjust="spacingAndGlyphs" fill="#666">,000</text>
<text x="451" y="194.5" font-size="4" textLength="10.5" lengthAdjust="spacingAndGlyphs" fill="#666">50 kB</text>
<text x="258.4" y="209.4" font-size="8.3" text-anchor="end">15</text>
<text x="258.4" y="220.9" font-size="8.3" text-anchor="end">0</text>
<text x="258.4" y="230.6" font-size="8.3" text-anchor="end">15</text>
<text x="258.4" y="241.7" font-size="8.3" text-anchor="end">0</text>
<text x="258.4" y="251.4" font-size="8.3" text-anchor="end">15</text>
<text x="258.4" y="263.1" font-size="8.3" text-anchor="end">0</text>
<text x="258.4" y="272.6" font-size="8.3" text-anchor="end">65</text>
<text x="258.4" y="284.7" font-size="8.3" text-anchor="end">0</text>
<text x="246" y="215.5" font-size="9.4" textLength="22.4" lengthAdjust="spacingAndGlyphs" text-anchor="end">Input</text>
<text x="246.3" y="237" font-size="9.4" textLength="15.2" lengthAdjust="spacingAndGlyphs" text-anchor="end">IgG</text>
<text x="247.5" y="256.4" font-size="9.2" textLength="30.2" lengthAdjust="spacingAndGlyphs" text-anchor="end">RUNX1</text>
<text x="248" y="271.2" font-size="9.2" textLength="30.7" lengthAdjust="spacingAndGlyphs" text-anchor="end">RUNX1</text>
<text x="246.3" y="283.3" font-size="9.2" textLength="38.2" lengthAdjust="spacingAndGlyphs" text-anchor="end">ChIP-seq</text>
<text transform="translate(206.6,248.2) rotate(-90)" font-size="9.6" textLength="31.8" lengthAdjust="spacingAndGlyphs" fill="#231f20">RIP-seq</text>
<path d="M213.8,210.8 H210.9 V252.3 H213.8" fill="none" stroke="#111" stroke-width="1.4"/>
<line x1="374" y1="302.9" x2="472" y2="302.9" stroke="#333" stroke-width="1.6"/>
<rect x="372.2" y="300.9" width="4.3" height="3.9" fill="#000"/>
<path d="M376.4,306.5 V292.6 H388.6 M383.1,289.6 L388.8,292.6 L383.1,295.5" fill="none" stroke="#111" stroke-width="1.5"/>
<line x1="385.3" y1="298.8" x2="385.3" y2="307.3" stroke="#111" stroke-width="1.3"/>
<line x1="447.9" y1="298.8" x2="447.9" y2="307.3" stroke="#111" stroke-width="1.3"/>
<line x1="453.1" y1="298.8" x2="453.1" y2="307.3" stroke="#111" stroke-width="1.3"/>
<rect x="464.5" y="298.6" width="3.8" height="8.4" fill="#000"/>
<rect x="468" y="301.1" width="4.6" height="3.6" fill="#000"/>
<text x="408.5" y="315.8" font-size="9.2" textLength="20" lengthAdjust="spacingAndGlyphs" font-style="italic" style="stroke-width:0.35px">PU.1</text>
<text x="7.4" y="408.2" font-size="10.6" textLength="7" lengthAdjust="spacingAndGlyphs" font-weight="bold" fill="#000">E</text>
<text x="31.8" y="407.1" font-size="10.1" textLength="75.4" lengthAdjust="spacingAndGlyphs">RUNX1 RIP-qPCR</text>
<rect x="92" y="417.4" width="69.5" height="23.4" fill="#c8e8f5"/>
<rect x="148" y="429.10" width="1" height="12" fill="#6a9cc9"/>
<rect x="150" y="427.10" width="1" height="14" fill="#6a9cc9"/>
<rect x="152" y="425.10" width="1" height="16" fill="#6a9cc9"/>
<rect x="154" y="427.10" width="1" height="14" fill="#6a9cc9"/>
<rect x="156" y="431.10" width="1" height="10" fill="#6a9cc9"/>
<rect x="159" y="432.10" width="1" height="9" fill="#6a9cc9"/>
<rect x="71" y="439.10" width="1" height="2" fill="#12548a"/>
<rect x="80" y="437.10" width="1" height="4" fill="#12548a"/>
<rect x="81" y="439.10" width="1" height="2" fill="#12548a"/>
<rect x="84" y="439.10" width="1" height="2" fill="#12548a"/>
<rect x="85" y="437.60" width="1" height="3.5" fill="#12548a"/>
<rect x="86" y="438.10" width="1" height="3" fill="#12548a"/>
<rect x="87" y="439.10" width="1" height="2" fill="#12548a"/>
<rect x="89" y="439.10" width="1" height="2" fill="#12548a"/>
<rect x="90" y="438.10" width="1" height="3" fill="#12548a"/>
<rect x="91" y="437.10" width="1" height="4" fill="#12548a"/>
<rect x="92" y="438.10" width="1" height="3" fill="#12548a"/>
<rect x="93" y="436.10" width="1" height="5" fill="#12548a"/>
<rect x="94" y="437.10" width="1" height="4" fill="#12548a"/>
<rect x="95" y="433.10" width="1" height="8" fill="#12548a"/>
<rect x="96" y="431.10" width="1" height="10" fill="#12548a"/>
<rect x="97" y="435.10" width="1" height="6" fill="#12548a"/>
<rect x="98" y="433.10" width="1" height="8" fill="#12548a"/>
<rect x="99" y="436.10" width="1" height="5" fill="#12548a"/>
<rect x="100" y="439.10" width="1" height="2" fill="#12548a"/>
<rect x="101" y="438.10" width="1" height="3" fill="#12548a"/>
<rect x="102" y="437.10" width="1" height="4" fill="#12548a"/>
<rect x="103" y="435.10" width="1" height="6" fill="#12548a"/>
<rect x="104" y="436.10" width="1" height="5" fill="#12548a"/>
<rect x="105" y="434.10" width="1" height="7" fill="#12548a"/>
<rect x="106" y="433.10" width="1" height="8" fill="#12548a"/>
<rect x="107" y="433.10" width="1" height="8" fill="#12548a"/>
<rect x="108" y="435.10" width="1" height="6" fill="#12548a"/>
<rect x="109" y="436.10" width="1" height="5" fill="#12548a"/>
<rect x="110" y="437.10" width="1" height="4" fill="#12548a"/>
<rect x="111" y="436.10" width="1" height="5" fill="#12548a"/>
<rect x="112" y="438.10" width="1" height="3" fill="#12548a"/>
<rect x="113" y="439.10" width="1" height="2" fill="#12548a"/>
<rect x="114" y="436.10" width="1" height="5" fill="#12548a"/>
<rect x="115" y="436.10" width="1" height="5" fill="#12548a"/>
<rect x="116" y="438.10" width="1" height="3" fill="#12548a"/>
<rect x="117" y="438.10" width="1" height="3" fill="#12548a"/>
<rect x="118" y="436.10" width="1" height="5" fill="#12548a"/>
<rect x="119" y="435.10" width="1" height="6" fill="#12548a"/>
<rect x="120" y="434.10" width="1" height="7" fill="#12548a"/>
<rect x="121" y="433.10" width="1" height="8" fill="#12548a"/>
<rect x="122" y="435.10" width="1" height="6" fill="#12548a"/>
<rect x="123" y="435.10" width="1" height="6" fill="#12548a"/>
<rect x="124" y="436.10" width="1" height="5" fill="#12548a"/>
<rect x="125" y="438.10" width="1" height="3" fill="#12548a"/>
<rect x="126" y="437.10" width="1" height="4" fill="#12548a"/>
<rect x="127" y="438.10" width="1" height="3" fill="#12548a"/>
<rect x="128" y="438.10" width="1" height="3" fill="#12548a"/>
<rect x="129" y="436.10" width="1" height="5" fill="#12548a"/>
<rect x="130" y="435.10" width="1" height="6" fill="#12548a"/>
<rect x="131" y="437.10" width="1" height="4" fill="#12548a"/>
<rect x="132" y="439.10" width="1" height="2" fill="#12548a"/>
<rect x="133" y="438.10" width="1" height="3" fill="#12548a"/>
<rect x="134" y="437.10" width="1" height="4" fill="#12548a"/>
<rect x="135" y="436.10" width="1" height="5" fill="#12548a"/>
<rect x="136" y="436.10" width="1" height="5" fill="#12548a"/>
<rect x="137" y="438.10" width="1" height="3" fill="#12548a"/>
<rect x="138" y="439.10" width="1" height="2" fill="#12548a"/>
<rect x="139" y="439.10" width="1" height="2" fill="#12548a"/>
<rect x="140" y="437.10" width="1" height="4" fill="#12548a"/>
<rect x="141" y="439.10" width="1" height="2" fill="#12548a"/>
<rect x="142" y="439.60" width="1" height="1.5" fill="#12548a"/>
<rect x="143" y="440.10" width="1" height="1" fill="#12548a"/>
<rect x="144" y="439.10" width="1" height="2" fill="#12548a"/>
<rect x="145" y="435.10" width="1" height="6" fill="#12548a"/>
<rect x="146" y="430.10" width="1" height="11" fill="#12548a"/>
<rect x="147" y="433.10" width="1" height="8" fill="#12548a"/>
<rect x="148" y="433.10" width="1" height="8" fill="#12548a"/>
<rect x="149" y="424.10" width="1" height="17" fill="#12548a"/>
<rect x="150" y="431.10" width="1" height="10" fill="#12548a"/>
<rect x="151" y="420.10" width="1" height="21" fill="#12548a"/>
<rect x="152" y="431.10" width="1" height="10" fill="#12548a"/>
<rect x="153" y="420.10" width="1" height="21" fill="#12548a"/>
<rect x="154" y="429.10" width="1" height="12" fill="#12548a"/>
<rect x="155" y="425.10" width="1" height="16" fill="#12548a"/>
<rect x="156" y="433.10" width="1" height="8" fill="#12548a"/>
<rect x="157" y="437.10" width="1" height="4" fill="#12548a"/>
<rect x="158" y="435.10" width="1" height="6" fill="#12548a"/>
<rect x="159" y="435.10" width="1" height="6" fill="#12548a"/>
<rect x="160" y="430.10" width="1" height="11" fill="#12548a"/>
<rect x="161" y="436.10" width="1" height="5" fill="#12548a"/>
<rect x="162" y="439.10" width="1" height="2" fill="#12548a"/>
<rect x="54.4" y="416.8" width="109.2" height="24.4" fill="none" stroke="#111" stroke-width="1.5"/>
<line x1="51.9" y1="423.8" x2="54" y2="423.8" stroke="#111" stroke-width="1"/>
<line x1="51.9" y1="440.8" x2="54" y2="440.8" stroke="#111" stroke-width="1"/>
<text x="7.9" y="428.8" font-size="9.2" textLength="30.8" lengthAdjust="spacingAndGlyphs">RUNX1</text>
<text x="7.1" y="439.6" font-size="9.2" textLength="31.6" lengthAdjust="spacingAndGlyphs">RIP-seq</text>
<text x="49.3" y="428.4" font-size="7.4" text-anchor="end">15</text>
<text x="49.3" y="439.6" font-size="7.4" text-anchor="end">0</text>
<line x1="92" y1="448.8" x2="161.8" y2="448.8" stroke="#222" stroke-width="1.3"/>
<line x1="98.5" y1="466.9" x2="161.8" y2="466.9" stroke="#222" stroke-width="1.3"/>
<line x1="98.5" y1="466.9" x2="142.5" y2="448.8" stroke="#111" stroke-width="1.1" stroke-dasharray="1.3 0.9"/>
<line x1="161.8" y1="448.8" x2="161.8" y2="466.9" stroke="#111" stroke-width="1.1" stroke-dasharray="1.1 0.8"/>
<line x1="98.9" y1="472" x2="110.8" y2="472" stroke="#555" stroke-width="1.5"/>
<line x1="123.5" y1="472" x2="135.4" y2="472" stroke="#555" stroke-width="1.5"/>
<line x1="145.4" y1="472" x2="156.9" y2="472" stroke="#555" stroke-width="1.5"/>
<text x="99.7" y="482.8" font-size="8.3" textLength="9.4" lengthAdjust="spacingAndGlyphs">#1</text>
<text x="124.3" y="482.8" font-size="8.3" textLength="10.3" lengthAdjust="spacingAndGlyphs">#2</text>
<text x="146.3" y="482.8" font-size="8.3" textLength="9.8" lengthAdjust="spacingAndGlyphs">#3</text>
<g stroke="#111" stroke-width="1.3" fill="none">
<line x1="208.7" y1="421" x2="208.7" y2="550.6"/>
<line x1="208" y1="550" x2="323" y2="550"/>
<line x1="205.6" y1="550.0" x2="208.7" y2="550.0"/>
<line x1="205.6" y1="507.2" x2="208.7" y2="507.2"/>
<line x1="205.6" y1="464.4" x2="208.7" y2="464.4"/>
<line x1="205.6" y1="421.6" x2="208.7" y2="421.6"/>
<line x1="227.3" y1="550" x2="227.3" y2="553.5"/>
<line x1="265.6" y1="550" x2="265.6" y2="553.5"/>
<line x1="304.1" y1="550" x2="304.1" y2="553.5"/>
</g>
<text x="203.3" y="553.0" font-size="8.2" text-anchor="end">0</text>
<text x="203.3" y="510.2" font-size="8.2" text-anchor="end">2</text>
<text x="203.3" y="467.4" font-size="8.2" text-anchor="end">4</text>
<text x="203.3" y="424.6" font-size="8.2" text-anchor="end">6</text>
<text transform="translate(189.2,517) rotate(-90)" font-size="9.5" textLength="66.2" lengthAdjust="spacingAndGlyphs" fill="#231f20">% of RNA input</text>
<line x1="220.55" y1="545.8" x2="220.55" y2="544.3" stroke="#111" stroke-width="1.2"/>
<line x1="217.75" y1="544.3" x2="223.35" y2="544.3" stroke="#111" stroke-width="1.3"/>
<rect x="214.8" y="545.8" width="11.50" height="3.60" fill="#c31f30"/>
<line x1="234.45" y1="502.2" x2="234.45" y2="487.9" stroke="#111" stroke-width="1.2"/>
<line x1="231.65" y1="487.9" x2="237.25" y2="487.9" stroke="#111" stroke-width="1.3"/>
<rect x="229.0" y="502.2" width="10.90" height="47.20" fill="#115080"/>
<line x1="258.35" y1="542.9" x2="258.35" y2="541.2" stroke="#111" stroke-width="1.2"/>
<line x1="255.55" y1="541.2" x2="261.15" y2="541.2" stroke="#111" stroke-width="1.3"/>
<rect x="252.9" y="542.9" width="10.90" height="6.50" fill="#c31f30"/>
<line x1="272.80" y1="445.6" x2="272.80" y2="435.1" stroke="#111" stroke-width="1.2"/>
<line x1="270.00" y1="435.1" x2="275.60" y2="435.1" stroke="#111" stroke-width="1.3"/>
<rect x="267.3" y="445.6" width="11.00" height="103.80" fill="#115080"/>
<line x1="297.60" y1="541.2" x2="297.60" y2="539.2" stroke="#111" stroke-width="1.2"/>
<line x1="294.80" y1="539.2" x2="300.40" y2="539.2" stroke="#111" stroke-width="1.3"/>
<rect x="292.2" y="541.2" width="10.80" height="8.20" fill="#c31f30"/>
<line x1="311.40" y1="518.0" x2="311.40" y2="515.7" stroke="#111" stroke-width="1.2"/>
<line x1="308.60" y1="515.7" x2="314.20" y2="515.7" stroke="#111" stroke-width="1.3"/>
<rect x="305.9" y="518.0" width="11.00" height="31.40" fill="#115080"/>
<path d="M218.1,480.7 V476.8 H234.5 V480.7" fill="none" stroke="#222" stroke-width="1.3"/>
<path d="M256.4,428.7 V424.8 H272.8 V428.7" fill="none" stroke="#222" stroke-width="1.3"/>
<path d="M294.8,503 V499.5 H310.8 V503" fill="none" stroke="#222" stroke-width="1.3"/>
<rect x="223.90" y="470.80" width="1.8" height="1.8" fill="#333"/>
<rect x="227.20" y="470.80" width="1.8" height="1.8" fill="#333"/>
<rect x="259.30" y="419.10" width="1.8" height="1.8" fill="#333"/>
<rect x="262.20" y="419.10" width="1.8" height="1.8" fill="#333"/>
<rect x="265.10" y="419.10" width="1.8" height="1.8" fill="#333"/>
<rect x="268.00" y="419.10" width="1.8" height="1.8" fill="#333"/>
<rect x="297.50" y="492.80" width="1.8" height="1.8" fill="#333"/>
<rect x="300.43" y="492.80" width="1.8" height="1.8" fill="#333"/>
<rect x="303.37" y="492.80" width="1.8" height="1.8" fill="#333"/>
<rect x="306.30" y="492.80" width="1.8" height="1.8" fill="#333"/>
<rect x="288" y="420.5" width="14.3" height="8" fill="#c31f30"/>
<rect x="288" y="432" width="14.3" height="8" fill="#115080"/>
<text x="308.7" y="427.2" font-size="8.2" textLength="13.2" lengthAdjust="spacingAndGlyphs">IgG</text>
<text x="307.8" y="439" font-size="8.2" textLength="27" lengthAdjust="spacingAndGlyphs">RUNX1</text>
<text transform="translate(232.8,559.2) rotate(-45)" font-size="9.3" text-anchor="end" textLength="51.5" lengthAdjust="spacingAndGlyphs" fill="#231f20">Amplicon #1</text>
<text transform="translate(271.1,559.2) rotate(-45)" font-size="9.3" text-anchor="end" textLength="51.5" lengthAdjust="spacingAndGlyphs" fill="#231f20">Amplicon #2</text>
<text transform="translate(309.8,559.2) rotate(-45)" font-size="9.3" text-anchor="end" textLength="51.5" lengthAdjust="spacingAndGlyphs" fill="#231f20">Amplicon #3</text>
</svg><div class="g" style="left:1px;top:1px;width:518px;height:1px"></div><div class="g" style="left:1px;top:1px;width:1px;height:602px"></div><div class="g" style="left:518px;top:1px;width:1px;height:602px"></div><div class="g" style="left:1px;top:602px;width:518px;height:1px"></div><div class="b" style="left:0;top:0;width:520px;height:1px"></div><div class="b" style="left:0;top:0;width:1px;height:604px"></div><div class="b" style="left:519px;top:0;width:1px;height:604px"></div><div class="b" style="left:0;top:603px;width:520px;height:1px"></div></div></body></html>
